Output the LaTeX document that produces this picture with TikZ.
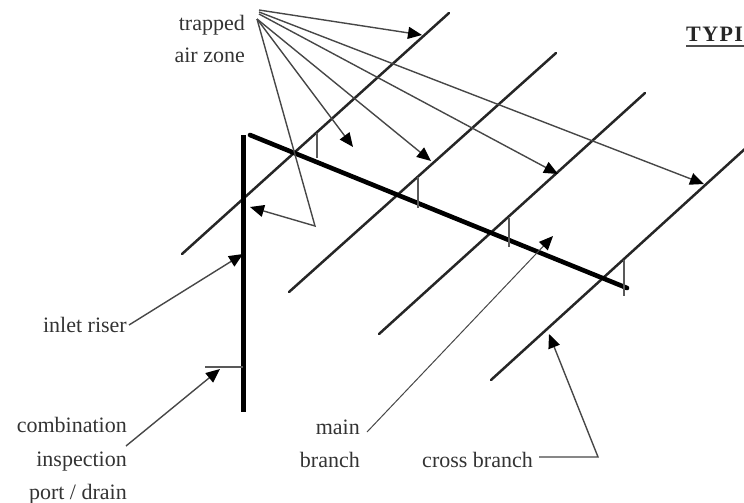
\documentclass[tikz,border=0pt]{standalone}
\usepackage{fontspec}
\setmainfont{Liberation Serif}
\usetikzlibrary{arrows.meta}
\tikzset{
  pipe/.style={line width=2.5pt,color=black!85,line cap=round},
  thickpipe/.style={line width=4.6pt,color=black,line cap=round},
  tick/.style={line width=1.3pt,color=black!65},
  leader/.style={line width=1.4pt,color=black!72,-{Triangle[length=14pt,width=12pt,color=black]}},
  label/.style={inner sep=0pt,anchor=base east,text=black!80,font=\fontsize{22}{26}\selectfont},
}
\begin{document}
\begin{tikzpicture}[x=1pt,y=-1pt]
\useasboundingbox (0,0) rectangle (744,503);
% end points
\foreach \n/\x/\y in {
  a1/182/254, a2/449/13, b1/289/292, b2/556/53, c1/379/334, c2/645/93, d1/491/380, d2/747/147,
  mainA/250/135, mainB/627/288, riserA/243.5/135, riserB/243.5/412, drainA/205/367, drainB/243/367,
  t1a/317/133, t1b/317/158, t2a/418/177, t2b/418/208, t3a/509/218, t3b/509/247, t4a/624/260, t4b/624/296,
  s1/259/10, e1/422/35, s2/259/12, e2/704/184, s3/259/14, e3/558/174,
  s4/257/19, e4/431/161, e5/353/147, bend/315/226, e6/250/207,
  rS/129/325, rE/243/254, cS/126/446, cE/220/369, mS/367/432, mE/553/236,
  xS/539/457, xM/598/457, xE/549/334, ulA/686/46, ulB/744/46}
  {\coordinate (\n) at (\x,\y);}
% pipes
\draw[pipe] (a1) -- (a2);
\draw[pipe] (b1) -- (b2);
\draw[pipe] (c1) -- (c2);
\draw[pipe] (d1) -- (d2);
\draw[thickpipe] (mainA) -- (mainB);
\draw[thickpipe,line cap=butt] (riserA) -- (riserB);
\draw[tick] (drainA) -- (drainB);
% ticks
\draw[tick] (t1a) -- (t1b);
\draw[tick] (t2a) -- (t2b);
\draw[tick] (t3a) -- (t3b);
\draw[tick] (t4a) -- (t4b);
% leaders
\draw[leader] (s1) -- (e1);
\draw[leader] (s2) -- (e2);
\draw[leader] (s3) -- (e3);
\draw[leader] (s4) -- (e4);
\draw[leader] (s4) -- (e5);
\draw[leader] (s4) -- (bend) -- (e6);
\draw[leader] (rS) -- (rE);
\draw[leader] (cS) -- (cE);
\draw[leader,line width=1pt] (mS) -- (mE);
\draw[leader] (xS) -- (xM) -- (xE);
% labels
\node[label] (l1) at (245,31) {trapped};
\node[label] (l2) at (245,63) {air zone};
\node[label] (l3) at (127,332) {inlet riser};
\node[label] (l4) at (127,432) {combination};
\node[label] (l5) at (127,466) {inspection};
\node[label] (l6) at (127,499) {port / drain};
\node[label] (l7) at (360,434) {main};
\node[label] (l8) at (360,467) {branch};
\node[label] (l9) at (533,467) {cross branch};
\node[inner sep=0pt,anchor=base west,text=black!85,font=\fontsize{22}{26}\selectfont\bfseries] (l10) at (686,42) {T\kern1.4pt Y\kern1.4pt P\kern1.4pt I};
\draw[line width=1.6pt,color=black!70] (ulA) -- (ulB);
\end{tikzpicture}
\end{document}
